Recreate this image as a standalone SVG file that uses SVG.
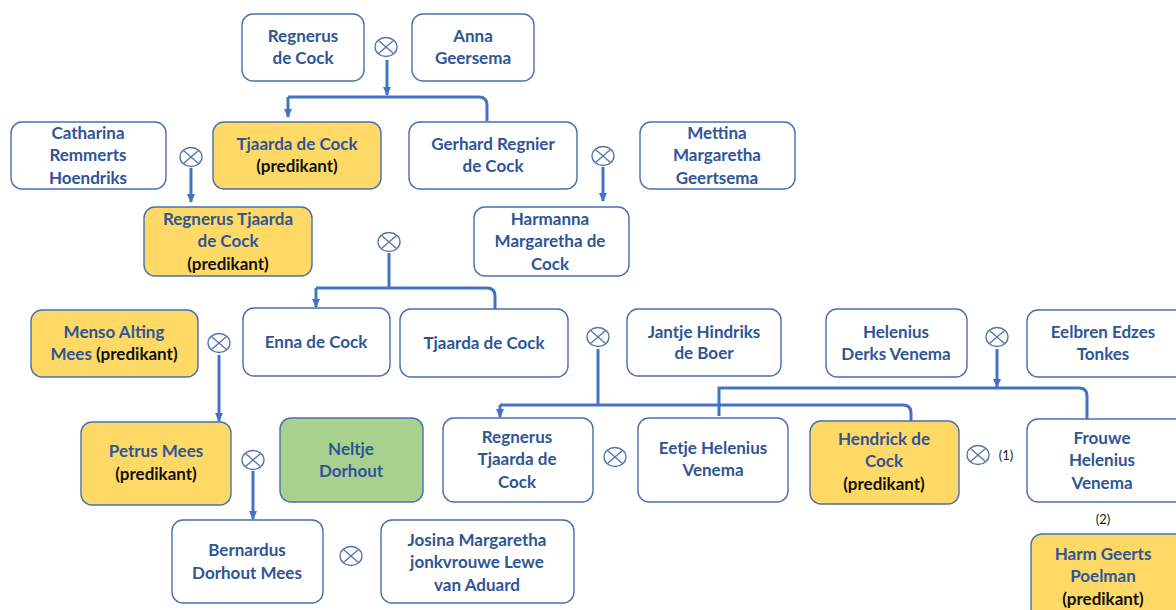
<svg xmlns="http://www.w3.org/2000/svg" xmlns:xlink="http://www.w3.org/1999/xlink" width="1176" height="610" viewBox="0 0 1176 610">
<style>
.b{fill:#fff;stroke:#4a6fb0;stroke-width:1.4}
.y{fill:#ffd966}
.g{fill:#a9d18e}
text{font-family:Lato,"Liberation Sans",sans-serif;font-weight:bold;font-size:17px;fill:#2f5597;text-anchor:middle;dominant-baseline:central}
.k{fill:#111}
.n{font-weight:normal;font-size:13px;fill:#222}
.c{fill:none;stroke:#4472c4;stroke-width:3}
</style>
<defs>
<marker id="a" markerUnits="userSpaceOnUse" markerWidth="9" markerHeight="8" refX="8" refY="4" orient="auto"><path d="M0,0 L9,4 L0,8 z" fill="#4472c4"/></marker>
<g id="m"><ellipse rx="11" ry="9.5" fill="#fff" stroke="#5572a8" stroke-width="1.3"/><path d="M-7.5,-6.5 L7.5,6.5 M-7.5,6.5 L7.5,-6.5" stroke="#5572a8" stroke-width="1.3"/></g>
</defs>
<rect width="1176" height="610" fill="#fff"/>
<g id="connectors">
<path class="c" d="M387,60 V95" marker-end="url(#a)"/>
<path class="c" d="M288,97 H479 Q487,97 487,105 V121"/>
<path class="c" d="M288,97 V117" marker-end="url(#a)"/>
<path class="c" d="M191,168 V202" marker-end="url(#a)"/>
<path class="c" d="M603,167 V201" marker-end="url(#a)"/>
<path class="c" d="M389,253 V288"/>
<path class="c" d="M316,288 H487 Q495,288 495,296 V309"/>
<path class="c" d="M316,288 V307" marker-end="url(#a)"/>
<path class="c" d="M219,355 V421" marker-end="url(#a)"/>
<path class="c" d="M253,471 V519" marker-end="url(#a)"/>
<path class="c" d="M598,349 V405"/>
<path class="c" d="M500,405 H903 Q911,405 911,413 V421"/>
<path class="c" d="M500,405 V417" marker-end="url(#a)"/>
<path class="c" d="M997,349 V387" marker-end="url(#a)"/>
<path class="c" d="M719,416 V388 H1079 Q1087,388 1087,396 V419"/>
</g>
<g id="marriages">
<use xlink:href="#m" x="386" y="47"/>
<use xlink:href="#m" x="191" y="157"/>
<use xlink:href="#m" x="603" y="156"/>
<use xlink:href="#m" x="389" y="242"/>
<use xlink:href="#m" x="219" y="343"/>
<use xlink:href="#m" x="598" y="337"/>
<use xlink:href="#m" x="997" y="337"/>
<use xlink:href="#m" x="253" y="460"/>
<use xlink:href="#m" x="615" y="457"/>
<use xlink:href="#m" x="978" y="455"/>
<use xlink:href="#m" x="351" y="556"/>
</g>
<g id="n1"><rect class="b" x="242" y="14" width="122" height="67" rx="11"/><text x="303" y="35">Regnerus</text><text x="303" y="57">de Cock</text></g>
<g id="n2"><rect class="b" x="412" y="14" width="122" height="67" rx="11"/><text x="473" y="35">Anna</text><text x="473" y="57">Geersema</text></g>
<g id="n3"><rect class="b" x="11" y="122" width="155" height="67" rx="11"/><text x="88" y="132">Catharina</text><text x="88" y="154">Remmerts</text><text x="88" y="177">Hoendriks</text></g>
<g id="n4"><rect class="b y" x="213" y="122" width="168" height="67" rx="11"/><text x="297" y="143">Tjaarda de Cock</text><text class="k" x="297" y="165">(predikant)</text></g>
<g id="n5"><rect class="b" x="409" y="122" width="168" height="67" rx="11"/><text x="493" y="143">Gerhard Regnier</text><text x="493" y="165">de Cock</text></g>
<g id="n6"><rect class="b" x="640" y="122" width="155" height="67" rx="11"/><text x="717" y="132">Mettina</text><text x="717" y="154">Margaretha</text><text x="717" y="177">Geertsema</text></g>
<g id="n7"><rect class="b y" x="144" y="207" width="168" height="69" rx="11"/><text x="228" y="218">Regnerus Tjaarda</text><text x="228" y="240">de Cock</text><text class="k" x="228" y="263">(predikant)</text></g>
<g id="n8"><rect class="b" x="474" y="207" width="155" height="69" rx="11"/><text x="550" y="218">Harmanna</text><text x="550" y="240">Margaretha de</text><text x="550" y="263">Cock</text></g>
<g id="n9"><rect class="b y" x="31" y="310" width="167" height="67" rx="11"/><text x="114" y="331">Menso Alting</text><text x="114" y="353"><tspan>Mees </tspan><tspan class="k">(predikant)</tspan></text></g>
<g id="n10"><rect class="b" x="243" y="308" width="147" height="68" rx="11"/><text x="316" y="341">Enna de Cock</text></g>
<g id="n11"><rect class="b" x="400" y="309" width="168" height="68" rx="11"/><text x="484" y="342">Tjaarda de Cock</text></g>
<g id="n12"><rect class="b" x="627" y="309" width="154" height="67" rx="11"/><text x="704" y="331">Jantje Hindriks</text><text x="704" y="352">de Boer</text></g>
<g id="n13"><rect class="b" x="826" y="309" width="141" height="68" rx="11"/><text x="896" y="331">Helenius</text><text x="896" y="353">Derks Venema</text></g>
<g id="n14"><rect class="b" x="1027" y="310" width="160" height="67" rx="11"/><text x="1103" y="331">Eelbren Edzes</text><text x="1103" y="353">Tonkes</text></g>
<g id="n15"><rect class="b y" x="81" y="422" width="150" height="83" rx="11"/><text x="156" y="450">Petrus Mees</text><text class="k" x="156" y="473">(predikant)</text></g>
<g id="n16"><rect class="b g" x="280" y="418" width="143" height="84" rx="11"/><text x="351" y="448">Neltje</text><text x="351" y="470">Dorhout</text></g>
<g id="n17"><rect class="b" x="443" y="418" width="150" height="84" rx="11"/><text x="517" y="436">Regnerus</text><text x="517" y="458">Tjaarda de</text><text x="517" y="481">Cock</text></g>
<g id="n18"><rect class="b" x="638" y="418" width="150" height="84" rx="11"/><text x="713" y="447">Eetje Helenius</text><text x="713" y="469">Venema</text></g>
<g id="n19"><rect class="b y" x="810" y="421" width="149" height="83" rx="11"/><text x="884" y="438">Hendrick de</text><text x="884" y="460">Cock</text><text class="k" x="884" y="483">(predikant)</text></g>
<text class="n" x="1006" y="455">(1)</text>
<g id="n20"><rect class="b" x="1027" y="419" width="160" height="83" rx="11"/><text x="1102" y="437">Frouwe</text><text x="1102" y="459">Helenius</text><text x="1102" y="482">Venema</text></g>
<text class="n" x="1103" y="519">(2)</text>
<g id="n21"><rect class="b y" x="1031" y="534" width="160" height="90" rx="11"/><text x="1103" y="553">Harm Geerts</text><text x="1103" y="575">Poelman</text><text class="k" x="1103" y="598">(predikant)</text></g>
<g id="n22"><rect class="b" x="172" y="520" width="151" height="83" rx="11"/><text x="247" y="549">Bernardus</text><text x="247" y="572">Dorhout Mees</text></g>
<g id="n23"><rect class="b" x="381" y="520" width="193" height="83" rx="11"/><text x="477" y="539">Josina Margaretha</text><text x="477" y="561">jonkvrouwe Lewe</text><text x="477" y="584">van Aduard</text></g>
</svg>
